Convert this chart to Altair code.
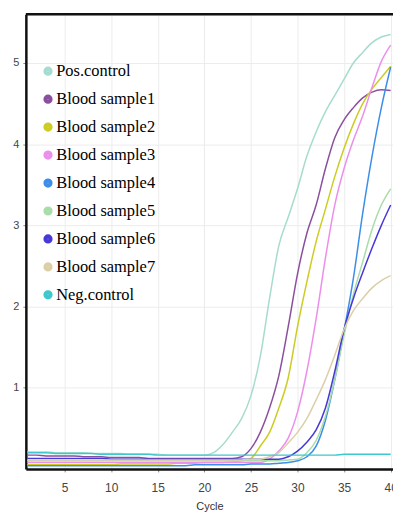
import altair as alt
import pandas as pd

cycles = list(range(1, 41))

series_names = ["Pos.control", "Blood sample1", "Blood sample2", "Blood sample3",
                "Blood sample4", "Blood sample5", "Blood sample6", "Blood sample7",
                "Neg.control"]

series_colors = ["#a6dccf", "#8b4f9f", "#cccc22", "#ec8fec", "#3c8ee8",
                 "#a8dca8", "#4838d8", "#dccfa8", "#3cc8cc"]

pos_control = [0.21, 0.21, 0.21, 0.20, 0.20, 0.20, 0.20, 0.19, 0.19, 0.19,
               0.19, 0.18, 0.18, 0.18, 0.18, 0.17, 0.17, 0.17, 0.17, 0.17,
               0.20, 0.30, 0.45, 0.62, 0.90, 1.38, 2.10, 2.75, 3.10, 3.45,
               3.85, 4.15, 4.40, 4.60, 4.80, 5.00, 5.13, 5.25, 5.32, 5.35]
sample1 = [0.17, 0.17, 0.16, 0.16, 0.16, 0.16, 0.15, 0.15, 0.15, 0.14,
           0.14, 0.14, 0.14, 0.13, 0.13, 0.13, 0.13, 0.13, 0.13, 0.13,
           0.13, 0.13, 0.13, 0.15, 0.25, 0.45, 0.75, 1.15, 1.75, 2.40,
           2.90, 3.25, 3.70, 4.08, 4.30, 4.45, 4.57, 4.64, 4.67, 4.66]
sample2 = [0.05, 0.05, 0.05, 0.05, 0.05, 0.05, 0.05, 0.05, 0.05, 0.05,
           0.06, 0.06, 0.06, 0.06, 0.06, 0.06, 0.07, 0.07, 0.07, 0.08,
           0.08, 0.08, 0.09, 0.10, 0.13, 0.28, 0.45, 0.75, 1.12, 1.75,
           2.30, 2.80, 3.20, 3.60, 3.95, 4.25, 4.50, 4.68, 4.82, 4.96]
sample3 = [0.08, 0.08, 0.08, 0.08, 0.08, 0.08, 0.08, 0.08, 0.08, 0.08,
           0.08, 0.08, 0.08, 0.08, 0.08, 0.08, 0.08, 0.08, 0.08, 0.08,
           0.08, 0.08, 0.08, 0.08, 0.08, 0.08, 0.12, 0.22, 0.38, 0.70,
           1.20, 1.85, 2.60, 3.25, 3.70, 4.05, 4.35, 4.70, 5.02, 5.22]
sample4 = [0.04, 0.04, 0.04, 0.04, 0.04, 0.04, 0.04, 0.04, 0.04, 0.04,
           0.04, 0.04, 0.04, 0.04, 0.04, 0.04, 0.04, 0.04, 0.05, 0.05,
           0.05, 0.05, 0.05, 0.05, 0.06, 0.06, 0.06, 0.07, 0.08, 0.10,
           0.15, 0.28, 0.60, 1.10, 1.70, 2.35, 3.15, 3.85, 4.45, 4.95]
sample5 = [0.10, 0.10, 0.10, 0.10, 0.10, 0.10, 0.10, 0.10, 0.10, 0.10,
           0.10, 0.10, 0.10, 0.10, 0.10, 0.10, 0.10, 0.10, 0.10, 0.10,
           0.10, 0.10, 0.10, 0.10, 0.10, 0.10, 0.10, 0.10, 0.11, 0.12,
           0.20, 0.35, 0.65, 1.10, 1.65, 2.15, 2.55, 2.95, 3.25, 3.45]
sample6 = [0.13, 0.13, 0.13, 0.13, 0.13, 0.13, 0.13, 0.13, 0.13, 0.12,
           0.12, 0.12, 0.12, 0.12, 0.12, 0.12, 0.12, 0.12, 0.12, 0.12,
           0.12, 0.12, 0.12, 0.12, 0.12, 0.12, 0.12, 0.12, 0.15, 0.22,
           0.33, 0.48, 0.75, 1.20, 1.72, 2.10, 2.42, 2.72, 3.00, 3.25]
sample7 = [0.11, 0.11, 0.11, 0.11, 0.11, 0.11, 0.11, 0.11, 0.11, 0.11,
           0.11, 0.11, 0.11, 0.11, 0.11, 0.11, 0.11, 0.11, 0.11, 0.11,
           0.11, 0.11, 0.11, 0.11, 0.12, 0.12, 0.15, 0.20, 0.32, 0.45,
           0.62, 0.85, 1.10, 1.40, 1.72, 1.95, 2.10, 2.23, 2.32, 2.38]
neg_control = [0.20, 0.20, 0.20, 0.19, 0.19, 0.19, 0.19, 0.19, 0.18, 0.18,
               0.18, 0.18, 0.18, 0.18, 0.17, 0.17, 0.17, 0.17, 0.17, 0.17,
               0.17, 0.17, 0.17, 0.17, 0.17, 0.17, 0.17, 0.17, 0.17, 0.17,
               0.17, 0.17, 0.17, 0.17, 0.18, 0.18, 0.18, 0.18, 0.18, 0.18]

all_values = [pos_control, sample1, sample2, sample3, sample4,
              sample5, sample6, sample7, neg_control]

rows = []
for name, vals in zip(series_names, all_values):
    for c, v in zip(cycles, vals):
        rows.append({"Cycle": c, "Value": v, "Series": name})
df = pd.DataFrame(rows)

x_ticks = [5, 10, 15, 20, 25, 30, 35, 40]
y_ticks = [1, 2, 3, 4, 5]

lines = alt.Chart(df).mark_line(strokeWidth=1.5, interpolate="monotone", clip=True).encode(
    x=alt.X("Cycle:Q",
            scale=alt.Scale(domain=[0.85, 40.25], nice=False, zero=False),
            axis=alt.Axis(values=x_ticks, title="Cycle", tickSize=3, labelPadding=11,
                          titlePadding=7, labelFontSize=12, titleFontSize=11,
                          titleFontWeight="normal", labelColor="#444", titleColor="#333",
                          labelFont="Liberation Sans", titleFont="Liberation Sans",
                          domainColor="#111", domainWidth=2.5, tickColor="#888",
                          gridColor="#ececec")),
    y=alt.Y("Value:Q",
            scale=alt.Scale(domain=[0, 5.6], nice=False),
            axis=alt.Axis(values=y_ticks, title=None, tickSize=3, labelPadding=4,
                          labelFontSize=11, labelColor="#444", labelFont="Liberation Sans",
                          domainColor="#111", domainWidth=2.5, tickColor="#888",
                          gridColor="#ececec")),
    color=alt.Color("Series:N",
                    scale=alt.Scale(domain=series_names, range=series_colors),
                    sort=series_names,
                    legend=alt.Legend(orient="none", legendX=14, legendY=49, title=None,
                                      symbolType="circle", symbolSize=18,
                                      symbolStrokeWidth=5,
                                      labelFont="Liberation Serif, Times New Roman, serif",
                                      labelFontSize=16.5, labelColor="#000",
                                      rowPadding=3.1, labelOffset=0, padding=0,
                                      labelLimit=300)),
)

top_border = alt.Chart(pd.DataFrame({"t": [0]})).mark_rule(
    color="#111", strokeWidth=2.5
).encode(y=alt.value(0), x=alt.value(0), x2=alt.value(369))

chart = alt.layer(lines, top_border).properties(
    width=369, height=457,
    autosize=alt.AutoSizeParams(type="none"),
    padding={"left": 26, "top": 13, "right": 0, "bottom": 46},
).configure_view(
    strokeWidth=0
).configure(background="white")

chart.save("out.html", embed_options={"renderer": "svg", "actions": False})
